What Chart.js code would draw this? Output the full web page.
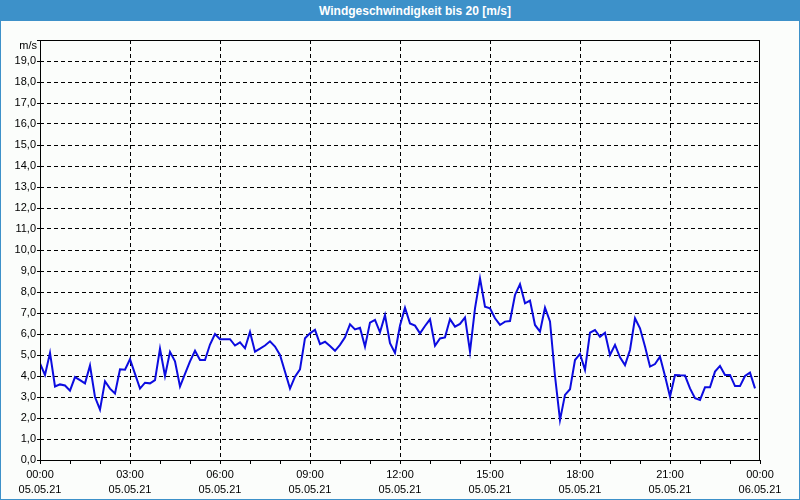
<!DOCTYPE html>
<html>
<head>
<meta charset="utf-8">
<script src="https://cdn.jsdelivr.net/npm/chart.js@4"></script>
<style>
  html, body { margin: 0; padding: 0; background: #fbfdfb; }
  #wrap { position: relative; width: 800px; height: 500px; box-sizing: border-box; border: 1px solid #3d91c9; background: #fbfdfb; }
  #title { position: absolute; left: 0; top: 0; width: 100%; height: 20px; box-sizing: border-box; padding-left: 30px;
           background: #3d91c9; color: #fff; font: bold 12px "Liberation Sans", Arial, sans-serif; text-align: center; line-height: 20px; }
  canvas { position: absolute; left: -1px; top: -1px; }
</style>
</head>
<body>
<div id="wrap">
  <div id="title">Windgeschwindigkeit bis 20 [m/s]</div>
  <canvas id="windChart" width="800" height="500"></canvas>
</div>
<script>
// Data (one reading every 10 minutes, 05.05.21 00:00 - 23:50)
const STEP_MIN = 10;
const speeds = [
  4.6, 4.05, 5.1, 3.5, 3.6, 3.55, 3.3, 3.95, 3.8, 3.65, 4.5, 3.0,
  2.4, 3.75, 3.4, 3.17, 4.32, 4.3, 4.8, 4.1, 3.4, 3.68, 3.65, 3.8,
  5.3, 4.0, 5.15, 4.7, 3.5, 4.1, 4.7, 5.2, 4.76, 4.76, 5.5, 6.0,
  5.75, 5.75, 5.75, 5.45, 5.6, 5.32, 6.1, 5.16, 5.3, 5.45, 5.65, 5.4,
  5.0, 4.2, 3.4, 3.97, 4.32, 5.8, 6.03, 6.2, 5.52, 5.63, 5.43, 5.2,
  5.48, 5.84, 6.46, 6.22, 6.3, 5.4, 6.54, 6.67, 6.08, 6.9, 5.56, 5.1,
  6.4, 7.25, 6.5, 6.4, 6.03, 6.38, 6.7, 5.44, 5.79, 5.84, 6.71, 6.35,
  6.48, 6.79, 5.16, 7.22, 8.65, 7.3, 7.22, 6.75, 6.43, 6.59, 6.62, 7.86,
  8.37, 7.46, 7.59, 6.43, 6.11, 7.25, 6.6, 4.0, 1.9, 3.1, 3.37, 4.76,
  5.05, 4.29, 6.06, 6.19, 5.87, 6.06, 5.0, 5.48, 4.89, 4.52, 5.24, 6.75,
  6.27, 5.4, 4.45, 4.57, 4.92, 4.0, 3.02, 4.05, 4.03, 4.02, 3.41, 2.94,
  2.86, 3.46, 3.46, 4.21, 4.48, 4.05, 4.05, 3.52, 3.52, 4.0, 4.16, 3.41
];
const tickTimes = ['00:00', '03:00', '06:00', '09:00', '12:00', '15:00', '18:00', '21:00', '00:00'];
const tickDates = ['05.05.21', '05.05.21', '05.05.21', '05.05.21', '05.05.21', '05.05.21', '05.05.21', '05.05.21', '06.05.21'];
const Y_MAX = 20;

// Constants
const FONT = { family: '"Liberation Sans", Arial, sans-serif', size: 11 };
const LINE_COLOR = '#0c0ce0';
const X_MAX = (tickTimes.length - 1) * 180;

const points = speeds.map((v, i) => ({ x: i * STEP_MIN, y: v }));

// Frame round the plot + unit label
const framePlugin = {
  id: 'frame',
  afterDraw(chart) {
    const { ctx, chartArea: a } = chart;
    ctx.save();
    ctx.strokeStyle = '#000';
    ctx.lineWidth = 1;
    ctx.strokeRect(a.left + 0.5, a.top + 0.5, a.right - a.left - 1, a.bottom - a.top);
    ctx.fillStyle = '#000';
    ctx.font = `${FONT.size}px ${FONT.family}`;
    ctx.textAlign = 'right';
    ctx.textBaseline = 'middle';
    ctx.fillText('m/s', a.left - 3, a.top + 6);
    ctx.restore();
  }
};

new Chart(document.getElementById('windChart'), {
  type: 'line',
  data: {
    datasets: [{
      data: points,
      borderColor: LINE_COLOR,
      borderWidth: 2,
      pointRadius: 0,
      tension: 0,
      fill: false
    }]
  },
  options: {
    responsive: false,
    animation: false,
    layout: { padding: { top: 40, right: 40, left: 0, bottom: 0 } },
    plugins: { legend: { display: false }, tooltip: { enabled: false } },
    scales: {
      x: {
        type: 'linear',
        min: 0,
        max: X_MAX,
        afterFit: s => { s.height = 40; },
        ticks: {
          stepSize: 60,
          autoSkip: false,
          maxRotation: 0,
          padding: 3,
          color: '#000',
          font: { ...FONT, lineHeight: 1.4 },
          callback: v => v % 180 === 0 ? [tickTimes[v / 180], tickDates[v / 180]] : ''
        },
        grid: {
          color: c => (c.tick && c.tick.value % 180 === 0 && c.tick.value > 0 && c.tick.value < X_MAX) ? '#000' : 'rgba(0,0,0,0)',
          tickColor: '#000',
          tickLength: 4,
          lineWidth: 1
        },
        border: { display: false, dash: [4, 3] }
      },
      y: {
        min: 0,
        max: Y_MAX,
        afterFit: s => { s.width = 40; },
        ticks: {
          stepSize: 1,
          padding: 1,
          color: '#000',
          font: FONT,
          callback: v => v === Y_MAX ? '' : v.toFixed(1).replace('.', ',')
        },
        grid: {
          color: c => (c.tick && c.tick.value > 0 && c.tick.value < Y_MAX) ? '#000' : 'rgba(0,0,0,0)',
          tickColor: '#000',
          tickLength: 3,
          lineWidth: 1
        },
        border: { display: false, dash: [4, 3] }
      }
    }
  },
  plugins: [framePlugin]
});
</script>
</body>
</html>
